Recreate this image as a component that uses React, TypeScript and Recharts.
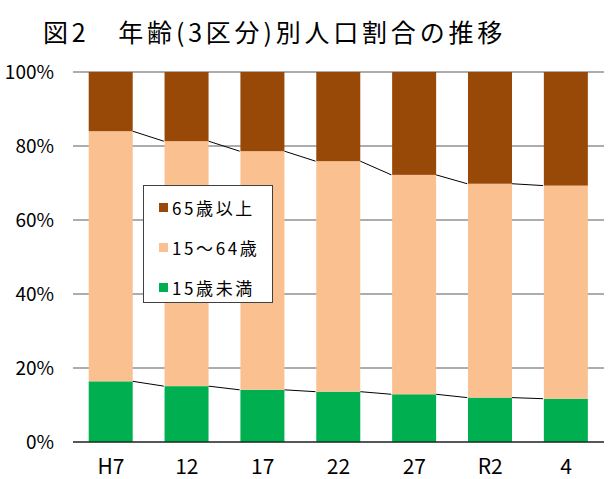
import { Bar, BarChart, CartesianGrid, Legend, XAxis, YAxis } from "recharts";

// 年齢3区分別の人口割合 (%)
const YEARS = ["H7", "12", "17", "22", "27", "R2", "4"];
const UNDER_15 = [16.4, 15.1, 14.1, 13.6, 12.9, 12.0, 11.7];
const AGE_15_64 = [67.6, 66.2, 64.5, 62.3, 59.3, 57.8, 57.6];
const OVER_65 = [16.0, 18.7, 21.4, 24.1, 27.8, 30.2, 30.7];
const Y_TICKS = [0, 20, 40, 60, 80, 100];

const FONT = '"Noto Sans CJK JP", "Noto Sans", sans-serif';
const GAP = 0.207; // barCategoryGap as a fraction of the band

type SeriesKey = "young" | "working" | "elderly";

const SERIES: { key: SeriesKey; name: string; color: string; connect: boolean }[] = [
	{ key: "young", name: "15歳未満", color: "#00B050", connect: true },
	{ key: "working", name: "15～64歳", color: "#FAC090", connect: true },
	{ key: "elderly", name: "65歳以上", color: "#984807", connect: false },
];

const data = YEARS.map((year, i) => ({
	year,
	young: UNDER_15[i],
	working: AGE_15_64[i],
	elderly: OVER_65[i],
}));

// running tops of each stack layer, used for the thin connector lines
const tops: Record<SeriesKey, number[]> = {
	young: UNDER_15,
	working: UNDER_15.map((v, i) => v + AGE_15_64[i]),
	elderly: UNDER_15.map((v, i) => v + AGE_15_64[i] + OVER_65[i]),
};

function stackShape(key: SeriesKey, color: string, connect: boolean) {
	return (props: any) => {
		const { x, y, width, height, index } = props;
		const row = data[index];
		let line = null;
		if (connect && index < data.length - 1) {
			// pixels per percent from this bar's own height
			const ppu = height / row[key];
			const nextY = y + (tops[key][index] - tops[key][index + 1]) * ppu;
			const spacing = width / (1 - 2 * GAP);
			line = (
				<line x1={x + width} y1={y} x2={x + spacing} y2={nextY} stroke="#000" strokeWidth={1} />
			);
		}
		return (
			<g>
				<rect x={x} y={y} width={width} height={height} fill={color} />
				{line}
			</g>
		);
	};
}

function LegendBox() {
	return (
		<div
			style={{
				background: "#fff",
				border: "1px solid #404040",
				width: 130,
				height: 118,
				boxSizing: "border-box",
				paddingLeft: 15,
				paddingTop: 1,
				fontFamily: FONT,
				fontSize: 17,
				letterSpacing: 2.6,
				color: "#000",
			}}
		>
			{[...SERIES].reverse().map((s) => (
				<div key={s.key} style={{ display: "flex", alignItems: "center", height: 40 }}>
					<span style={{ width: 9, height: 9, background: s.color, marginRight: 4, flexShrink: 0 }} />
					<span>{s.name}</span>
				</div>
			))}
		</div>
	);
}

export default function App() {
	return (
		<div style={{ position: "fixed", left: 0, top: 0, width: 609, height: 479, background: "#fff" }}>
			<div
				style={{
					position: "absolute",
					left: 43,
					top: 15,
					fontFamily: FONT,
					fontSize: 25,
					fontWeight: 400,
					letterSpacing: 3.8,
					whiteSpace: "nowrap",
					color: "#000",
					lineHeight: "32px",
				}}
			>
				図2　年齢(3区分)別人口割合の推移
			</div>
			<BarChart
				width={609}
				height={479}
				data={data}
				margin={{ top: 72, right: 5, bottom: 0, left: 0 }}
				barCategoryGap={`${GAP * 100}%`}
				style={{ position: "absolute", left: 0, top: 0 }}
			>
				<CartesianGrid vertical={false} stroke="#5a5a5a" strokeWidth={1} />
				<XAxis
					dataKey="year"
					height={37}
					axisLine={{ stroke: "#000" }}
					tickLine={false}
					tickMargin={11}
					tick={{ fill: "#000", fontSize: 21, fontFamily: FONT }}
				/>
				<YAxis
					width={73}
					domain={[0, 100]}
					ticks={Y_TICKS}
					tickFormatter={(v: number) => `${v}%`}
					axisLine={false}
					tickLine={false}
					tickMargin={13}
					tick={{ fill: "#000", fontSize: 19, fontFamily: FONT }}
				/>
				{SERIES.map((s) => (
					<Bar
						key={s.key}
						dataKey={s.key}
						name={s.name}
						stackId="pop"
						fill={s.color}
						shape={stackShape(s.key, s.color, s.connect)}
						isAnimationActive={false}
					/>
				))}
				<Legend
					layout="vertical"
					align="center"
					verticalAlign="middle"
					content={() => <LegendBox />}
					wrapperStyle={{ left: 143, top: 185, width: 130, height: 118 }}
				/>
			</BarChart>
		</div>
	);
}
